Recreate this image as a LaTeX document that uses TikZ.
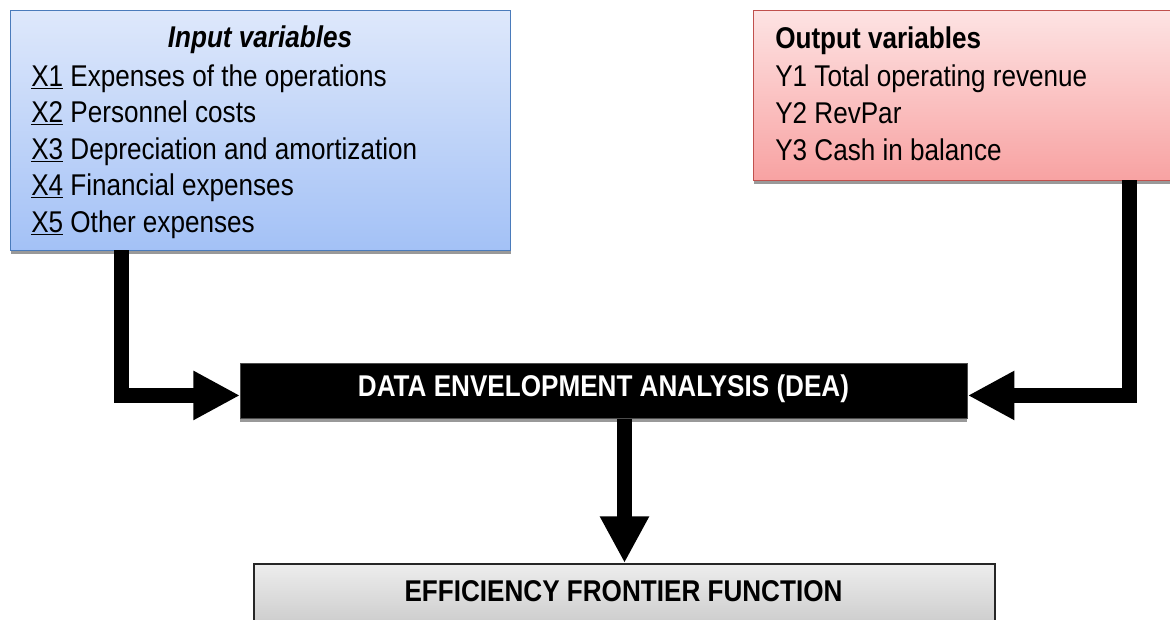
\documentclass[tikz,border=0pt]{standalone}
\usepackage{fontspec}
\setmainfont{Liberation Sans}[FakeStretch=0.87]
\usetikzlibrary{arrows.meta,shadows}

\definecolor{intop}{HTML}{DEE8FB}
\definecolor{inbot}{HTML}{A3C1F6}
\definecolor{inedge}{HTML}{4A7BBB}
\definecolor{outtop}{HTML}{FDE3E3}
\definecolor{outbot}{HTML}{F8A2A2}
\definecolor{outedge}{HTML}{C0504D}
\definecolor{efftop}{HTML}{EDEDED}
\definecolor{effbot}{HTML}{C2C2C2}

\newcommand{\varid}[1]{\underline{#1}}

\tikzset{
  varbox/.style={rectangle, inner sep=0pt, anchor=north west, line width=1.1pt,
    drop shadow={shadow xshift=0pt, shadow yshift=-2.6pt, fill=black!40, opacity=1}},
  vartext/.style={anchor=base west, inner sep=0pt, font=\fontsize{22.5}{27}\selectfont},
  headtext/.style={inner sep=0pt, font=\fontsize{22.5}{27}\selectfont\bfseries},
  bigarrow/.style={line width=11.25pt, line join=miter, -{Triangle[length=35pt,width=34.5pt]}},
}

\begin{document}
\begin{tikzpicture}[x=0.75pt,y=-0.75pt]
  \useasboundingbox (0,0) rectangle (1170,619);
  \clip (0,0) rectangle (1170,619);
  % input box
  \node[varbox, draw=inedge, top color=intop, bottom color=inbot,
    minimum width=375pt, minimum height=180pt] (inbox) at (10,10) {};
  \node[vartext, anchor=base, font=\fontsize{22.5}{27}\selectfont\bfseries\itshape] (intitle) at (260,47) {Input variables};
  \node[vartext] (x1) at (31,86) {\varid{X1} Expenses of the operations};
  \node[vartext] (x2) at (31,122.5) {\varid{X2} Personnel costs};
  \node[vartext] (x3) at (31,159) {\varid{X3} Depreciation and amortization};
  \node[vartext] (x4) at (31,195.5) {\varid{X4} Financial expenses};
  \node[vartext] (x5) at (31,232) {\varid{X5} Other expenses};
  % output box
  \node[varbox, draw=outedge, top color=outtop, bottom color=outbot,
    minimum width=320pt, minimum height=127.5pt] (outbox) at (753,10) {};
  \node[vartext, font=\fontsize{22.5}{27}\selectfont\bfseries] (outtitle) at (775,48) {Output variables};
  \node[vartext] (y1) at (775,86.5) {Y1 Total operating revenue};
  \node[vartext] (y2) at (775,123) {Y2 RevPar};
  \node[vartext] (y3) at (775,160) {Y3 Cash in balance};
  % DEA box
  \node[varbox, draw=black!70, line width=0.6pt, fill=black, text=white,
    minimum width=545.25pt, minimum height=41.25pt] (dea) at (240,363) {};
  \node[headtext, text=white] (deatext) at (603.5,389) {DATA ENVELOPMENT ANALYSIS (DEA)};
  % efficiency box (bottom runs off the page)
  \node[rectangle, inner sep=0pt, anchor=north west, draw=black!85, line width=1.5pt,
    top color=efftop, bottom color=effbot,
    minimum width=555.75pt, minimum height=60pt] (eff) at (253,563) {};
  \node[headtext] (efftext) at (623.5,591) {EFFICIENCY FRONTIER FUNCTION};
  % connectors
  \coordinate (inleg) at (121,250);
  \coordinate (outleg) at (1129.5,180);
  \draw[bigarrow] (inleg) |- ([yshift=-3.4pt]dea.west);
  \draw[bigarrow] (outleg) |- ([yshift=-3.4pt]dea.east);
  \draw[bigarrow] (dea.south -| eff.north) -- (eff.north);
\end{tikzpicture}
\end{document}
